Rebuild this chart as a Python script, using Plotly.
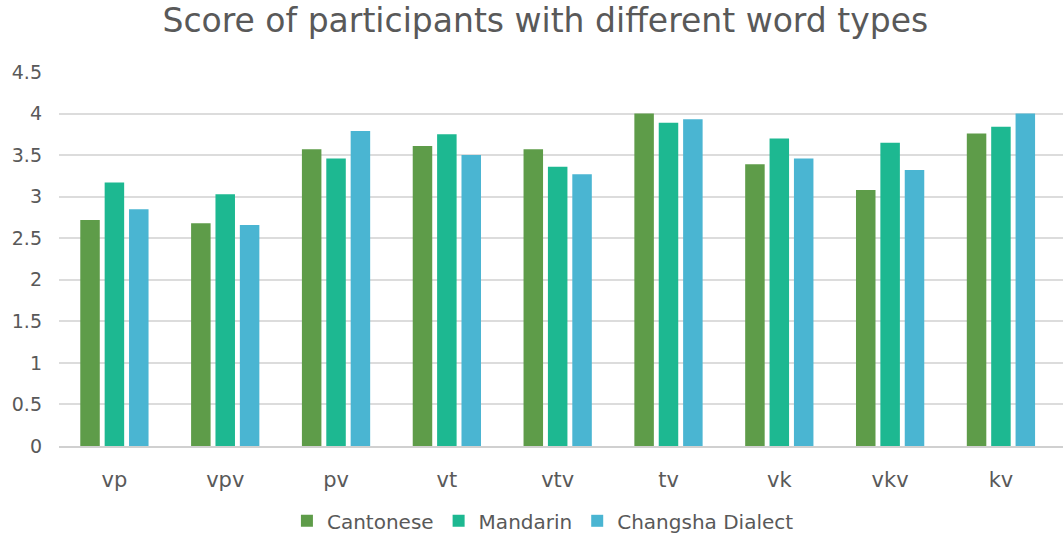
import plotly.graph_objects as go

word_types = ["vp", "vpv", "pv", "vt", "vtv", "tv", "vk", "vkv", "kv"]
cantonese = [2.72, 2.68, 3.57, 3.61, 3.57, 4.00, 3.39, 3.08, 3.76]
mandarin = [3.17, 3.03, 3.46, 3.75, 3.36, 3.89, 3.70, 3.65, 3.84]
changsha = [2.85, 2.66, 3.79, 3.50, 3.27, 3.93, 3.46, 3.32, 4.00]

series = [
    ("Cantonese", cantonese, "#5e9c49"),
    ("Mandarin", mandarin, "#1db891"),
    ("Changsha Dialect", changsha, "#4ab5d2"),
]

font_family = "DejaVu Sans, Verdana, sans-serif"
text_color = "#595959"

fig = go.Figure()
for name, vals, color in series:
    fig.add_trace(go.Bar(
        x=word_types, y=vals, name=name,
        marker=dict(color=color, line=dict(width=0)),
    ))

fig.update_layout(
    width=1063, height=538,
    margin=dict(l=59, r=0, t=72, b=92, autoexpand=False),
    paper_bgcolor="white", plot_bgcolor="white",
    barmode="group", bargap=0.34, bargroupgap=0.2,
    title=dict(
        text="Score of participants with different word types",
        x=0.513, xanchor="center", y=0.962, yanchor="middle",
        font=dict(family=font_family, size=33, color=text_color),
    ),
    font=dict(family=font_family, color=text_color),
    legend=dict(
        orientation="h", x=0.482, xanchor="center", y=-0.2, yanchor="middle",
        font=dict(size=20, color=text_color),
        tracegroupgap=0,
    ),
    showlegend=True,
)
fig.update_xaxes(
    range=[-0.5, 8.56],
    showline=True, linecolor="#d0d0d0", linewidth=2,
    tickfont=dict(size=21, color=text_color),
    ticks="", ticklabelstandoff=14,
    automargin=False,
)
fig.update_yaxes(
    range=[0, 4.5], dtick=0.5,
    showgrid=True, gridcolor="#dcdcdc", gridwidth=2,
    zeroline=False,
    tickfont=dict(size=19, color=text_color),
    ticks="", ticklabelstandoff=16,
    automargin=False,
)

fig.write_html("out.html")
